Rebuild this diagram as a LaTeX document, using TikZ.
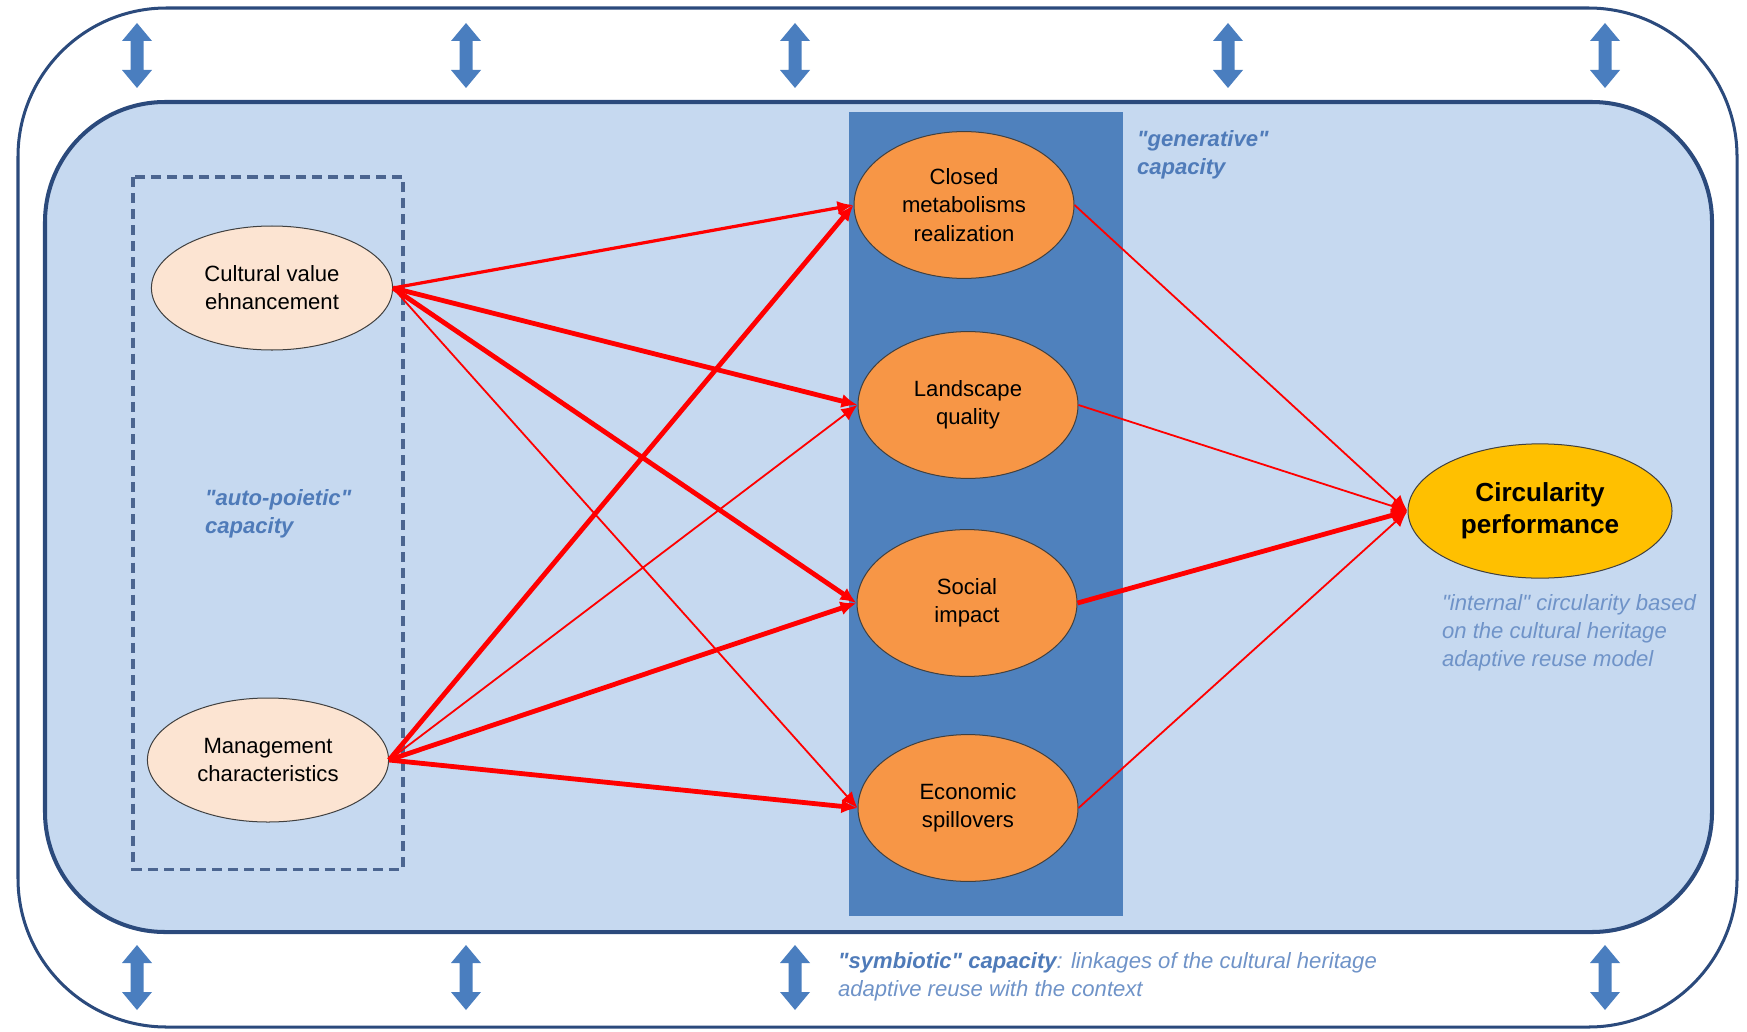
\documentclass[tikz,border=0pt]{standalone}
\usepackage{fontspec}
\setmainfont{Liberation Sans}[Ligatures=TeXOff]
\usepackage{tikz}
\usetikzlibrary{shapes.geometric, arrows.meta}

\definecolor{framenavy}{HTML}{2B4A7C}
\definecolor{panelblue}{HTML}{C6D9F0}
\definecolor{columnblue}{HTML}{4F81BD}
\definecolor{arrowblue}{HTML}{4A7EBF}
\definecolor{peachfill}{HTML}{FCE4D2}
\definecolor{orangefill}{HTML}{F79646}
\definecolor{goldfill}{HTML}{FFC000}
\definecolor{notedark}{HTML}{4F7BB9}
\definecolor{notelight}{HTML}{6F93C8}

\newcommand{\dblvarrow}[2]{%
  \fill[arrowblue] (#1,#2) ++(0,0.325) -- ++(0.15,-0.18) -- ++(-0.085,0) -- ++(0,-0.29)
    -- ++(0.085,0) -- ++(-0.15,-0.18) -- ++(-0.15,0.18) -- ++(0.085,0) -- ++(0,0.29)
    -- ++(-0.085,0) -- cycle;}

\tikzset{
  oval/.style={ellipse, draw=black!75, line width=0.5pt, inner sep=0pt, align=center,
    font=\fontsize{11}{14}\selectfont},
  inoval/.style={oval, fill=peachfill, minimum width=4.22cm, minimum height=2.17cm},
  midoval/.style={oval, fill=orangefill, minimum width=3.85cm, minimum height=2.57cm},
  outoval/.style={oval, fill=goldfill, minimum width=4.62cm, minimum height=2.35cm,
    font=\fontsize{13}{16}\selectfont\bfseries},
  link/.style={draw=red, -{Latex[length=8pt,width=7pt]}},
  thinlink/.style={link, line width=0.9pt},
  midlink/.style={link, line width=1.6pt},
  thicklink/.style={link, line width=2.4pt},
  note/.style={anchor=west, align=left, text=notedark,
    font=\fontsize{11}{14}\selectfont\bfseries\itshape}
}

\begin{document}
\begin{tikzpicture}[x=1.75cm, y=1.75cm]
\useasboundingbox (0,0) rectangle (17.47,-10.31);

% Frames
\draw[framenavy, line width=1.5pt, rounded corners=2.6cm] (0.18,-0.08) rectangle (17.37,-10.27);
\draw[framenavy, fill=panelblue, line width=2pt, rounded corners=2.1cm] (0.45,-1.02) rectangle (17.12,-9.32);
\fill[columnblue] (8.49,-1.12) rectangle (11.23,-9.16);
\draw[framenavy!85, line width=1.5pt, dash pattern=on 5pt off 3pt] (1.33,-1.77) rectangle (4.03,-8.69);

% Double arrows
\foreach \xa in {1.37,4.66,7.95,12.28,16.05} {\dblvarrow{\xa}{-0.555}}
\foreach \xa in {1.37,4.66,7.95,16.05} {\dblvarrow{\xa}{-9.775}}

% Ovals
\node[inoval] (cultv) at (2.72,-2.88) {Cultural value\\ehnancement};
\node[inoval] (mgmt) at (2.68,-7.60) {Management\\characteristics};
\node[midoval] (closed) at (9.64,-2.05) {Closed\\metabolisms\\realization};
\node[midoval] (landq) at (9.68,-4.05) {Landscape\\quality};
\node[midoval] (socimp) at (9.67,-6.03) {Social\\impact};
\node[midoval] (econs) at (9.68,-8.08) {Economic\\spillovers};
\node[outoval] (circp) at (15.40,-5.11) {Circularity\\performance};

% Notes
\node[note] (autocap) at (1.98,-5.14) {"auto-poietic"\\capacity};
\node[note] (gencap) at (11.30,-1.55) {"generative"\\capacity};
\node[note, text=notelight, font=\fontsize{11}{14}\selectfont\itshape] (intcirc) at (14.35,-6.33)
  {"internal" circularity based\\on the cultural heritage\\adaptive reuse model};
\node[note, text=notelight, font=\fontsize{11}{14}\selectfont\itshape] (symcap) at (8.31,-9.77)
  {\textcolor{notedark}{\bfseries "symbiotic" capacity}: linkages of the cultural heritage\\adaptive reuse with the context};

% Links
\draw[midlink] (cultv.east) -- (closed.west);
\draw[thicklink] (cultv.east) -- (landq.west);
\draw[thicklink] (cultv.east) -- (socimp.west);
\draw[thinlink] (cultv.east) -- (econs.west);
\draw[thicklink] (mgmt.east) -- (closed.west);
\draw[thinlink] (mgmt.east) -- (landq.west);
\draw[thicklink] (mgmt.east) -- (socimp.west);
\draw[thicklink] (mgmt.east) -- (econs.west);
\draw[thinlink] (closed.east) -- (circp.west);
\draw[thinlink] (landq.east) -- (circp.west);
\draw[thicklink] (socimp.east) -- (circp.west);
\draw[thinlink] (econs.east) -- (circp.west);

\end{tikzpicture}
\end{document}
